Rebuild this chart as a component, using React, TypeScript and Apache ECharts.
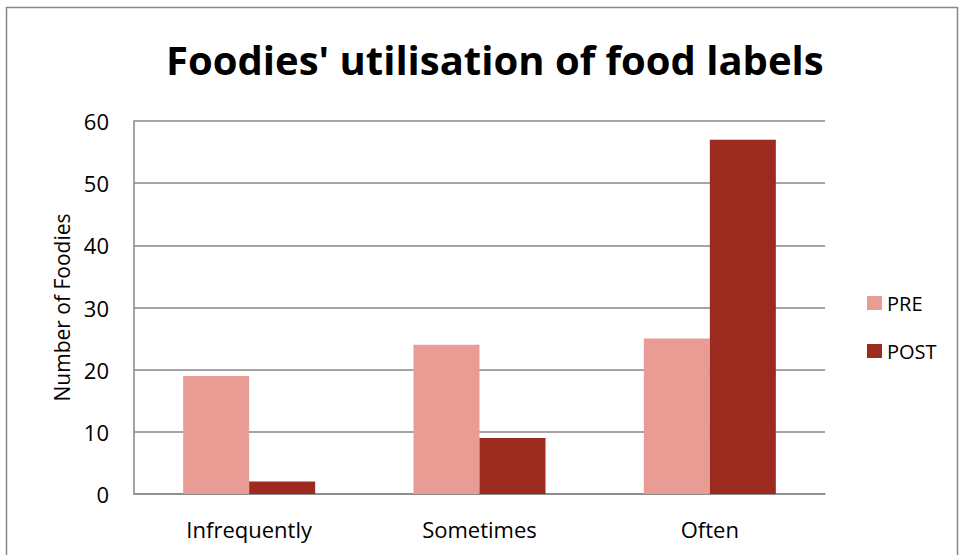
import React, { useEffect, useRef } from "react";
import * as echarts from "echarts";

const categories = ["Infrequently", "Sometimes", "Often"];
const preValues = [19, 24, 25];
const postValues = [2, 9, 57];
const seriesNames = ["PRE", "POST"];
const titleText = "Foodies' utilisation of food labels";
const yAxisName = "Number of Foodies";

const FONT = "'Open Sans', 'Noto Sans', sans-serif";

export default function App() {
  const ref = useRef<HTMLDivElement>(null);
  useEffect(() => {
    if (!ref.current) return;
    const chart = echarts.init(ref.current, null, { renderer: "svg" });
    chart.setOption({
      animation: false,
      backgroundColor: "#ffffff",
      textStyle: { fontFamily: FONT },
      title: {
        text: titleText,
        left: 161,
        top: 34,
        textStyle: { fontFamily: FONT, fontWeight: "bold", fontSize: 40, color: "#000" },
      },
      graphic: [
        {
          type: "rect",
          shape: { x: 6.5, y: 7.5, width: 951, height: 560 },
          style: { fill: "none", stroke: "#868686", lineWidth: 1.5 },
          silent: true,
        },
      ],
      legend: {
        orient: "vertical",
        left: 862,
        top: 288,
        itemWidth: 15,
        itemHeight: 14,
        itemGap: 28,
        icon: "rect",
        textStyle: { fontFamily: FONT, fontSize: 20, color: "#000" },
        data: seriesNames,
      },
      grid: { left: 134, right: 134, top: 121, bottom: 61, containLabel: false },
      xAxis: {
        type: "category",
        data: categories,
        axisLine: { show: true, lineStyle: { color: "#868686", width: 1.5 } },
        axisTick: { show: false },
        axisLabel: { fontFamily: FONT, fontSize: 22, color: "#000", margin: 24 },
      },
      yAxis: {
        type: "value",
        min: 0,
        max: 60,
        interval: 10,
        name: yAxisName,
        nameLocation: "middle",
        nameGap: 60,
        nameTextStyle: { fontFamily: FONT, fontSize: 21, color: "#000" },
        axisLine: { show: true, lineStyle: { color: "#868686", width: 1.5 } },
        axisTick: { show: false },
        splitLine: { show: true, lineStyle: { color: "#868686", width: 1.5 } },
        axisLabel: { fontFamily: FONT, fontSize: 22, color: "#000", margin: 25 },
      },
      series: [
        {
          name: seriesNames[0],
          type: "bar",
          data: preValues,
          barWidth: 66,
          barGap: "0%",
          itemStyle: { color: "#E99C93" },
        },
        {
          name: seriesNames[1],
          type: "bar",
          data: postValues,
          barWidth: 66,
          barGap: "0%",
          itemStyle: { color: "#9C2A1F" },
        },
      ],
    });
    return () => chart.dispose();
  }, []);
  return (
    <div
      ref={ref}
      style={{ position: "fixed", left: 0, top: 0, width: 959, height: 555 }}
    />
  );
}
